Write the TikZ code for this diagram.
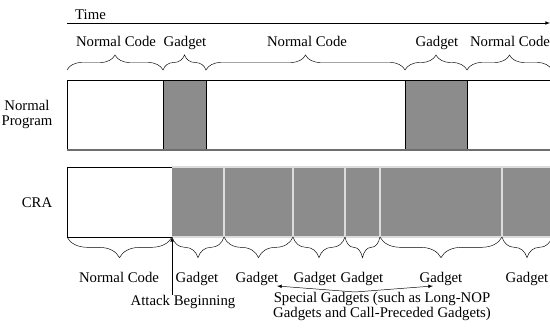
\documentclass[tikz,border=0pt]{standalone}
\usepackage{fontspec}
\setmainfont{Liberation Serif}
\usetikzlibrary{decorations.pathreplacing}
\definecolor{gadgetgray}{HTML}{8C8C8C}
\definecolor{sepgray}{HTML}{DCDCDC}
\definecolor{basegray}{HTML}{6E6E6E}
\tikzstyle{arrow} = [->,>=latex]
\tikzstyle{lbl} = [font=\fontsize{12.6}{12.8}\selectfont, inner sep=0pt]
\tikzstyle{upbrace} = [decorate,decoration={brace,amplitude=0.45cm}]
\tikzstyle{downbrace} = [decorate,decoration={brace,amplitude=0.62cm}]
\tikzstyle{gadget} = [fill=gadgetgray]

\begin{document}
\begin{tikzpicture}[x=0.03cm,y=-0.03cm]
        \useasboundingbox (0,0) rectangle (550,331);
        % time axis
        \coordinate (t0) at (67,23);
        \coordinate (t1) at (550,23);
        \draw[arrow] (t0) -- (t1);
        \node[lbl, anchor=base west] (time) at (75,19) {Time};

        % normal program
        \node[lbl, align=center] (np) at (27,114) {Normal\\Program};
        \fill[gadget] (163,80) rectangle (206,150);
        \fill[gadget] (405,80) rectangle (467,150);
        \draw (67,150) -- (67,80) -- (550,80);
        \draw (163,80) -- (163,150) (206,80) -- (206,150);
        \draw (405,80) -- (405,150) (467,80) -- (467,150);
        \draw[basegray, line width=1pt] (67,150) -- (550,150);

        \draw[upbrace] (67,70) -- (163,70);
        \draw[upbrace] (163,70) -- (206,70);
        \draw[upbrace] (206,70) -- (405,70);
        \draw[upbrace] (405,70) -- (467,70);
        \draw[upbrace] (467,70) -- (552,70);
        \node[lbl, anchor=base] (nc1) at (116,46) {Normal Code};
        \node[lbl, anchor=base] (ga1) at (185,46) {Gadget};
        \node[lbl, anchor=base] (nc2) at (307,46) {Normal Code};
        \node[lbl, anchor=base] (ga2) at (437,46) {Gadget};
        \node[lbl, anchor=base] (nc3) at (510,46) {Normal Code};

        % CRA
        \node[lbl] (cra) at (37,203) {CRA};
        \fill[gadget] (172,167) rectangle (550,237);
        \draw[sepgray, line width=1pt] (172,167) -- (550,167) (172,237) -- (550,237);
        \draw[sepgray, line width=1pt] (224,167) -- (224,237);
        \draw[sepgray, line width=1pt] (293,167) -- (293,237);
        \draw[sepgray, line width=1pt] (345,167) -- (345,237);
        \draw[sepgray, line width=1pt] (380,167) -- (380,237);
        \draw[sepgray, line width=1pt] (502,167) -- (502,237);
        \draw (172,167) -- (67,167) -- (67,237) -- (172,237);

        \draw[downbrace] (172,237) -- (67,237);
        \draw[downbrace] (224,237) -- (172,237);
        \draw[downbrace] (293,237) -- (224,237);
        \draw[downbrace] (345,237) -- (293,237);
        \draw[downbrace] (380,237) -- (345,237);
        \draw[downbrace] (502,237) -- (380,237);
        \draw[downbrace] (552,237) -- (502,237);
        \node[lbl, anchor=base] (nc4) at (119,282) {Normal Code};
        \node[lbl, anchor=base] (ga3) at (197,282) {Gadget};
        \node[lbl, anchor=base] (ga4) at (257,282) {Gadget};
        \node[lbl, anchor=base] (ga5) at (315,282) {Gadget};
        \node[lbl, anchor=base] (ga6) at (362,282) {Gadget};
        \node[lbl, anchor=base] (ga7) at (441,282) {Gadget};
        \node[lbl, anchor=base] (ga8) at (527,282) {Gadget};

        % attack beginning
        \node[lbl, anchor=base] (atk) at (183,305) {Attack Beginning};
        \coordinate (atkpt) at (172,237);
        \draw[arrow] (atk.north -| atkpt) -- (atkpt);

        % special gadgets
        \node[lbl, align=center, anchor=north] (sg) at (382,292) {Special Gadgets (such as Long-NOP\\Gadgets and Call-Preceded Gadgets)};
        \coordinate (sgroot) at (355,292);
        \coordinate (sgl) at (277,286);
        \coordinate (sgr) at (433,286);
        \draw[arrow] (sgroot) -- (sgl);
        \draw[arrow] (sgroot) -- (sgr);

    \end{tikzpicture}
\end{document}
